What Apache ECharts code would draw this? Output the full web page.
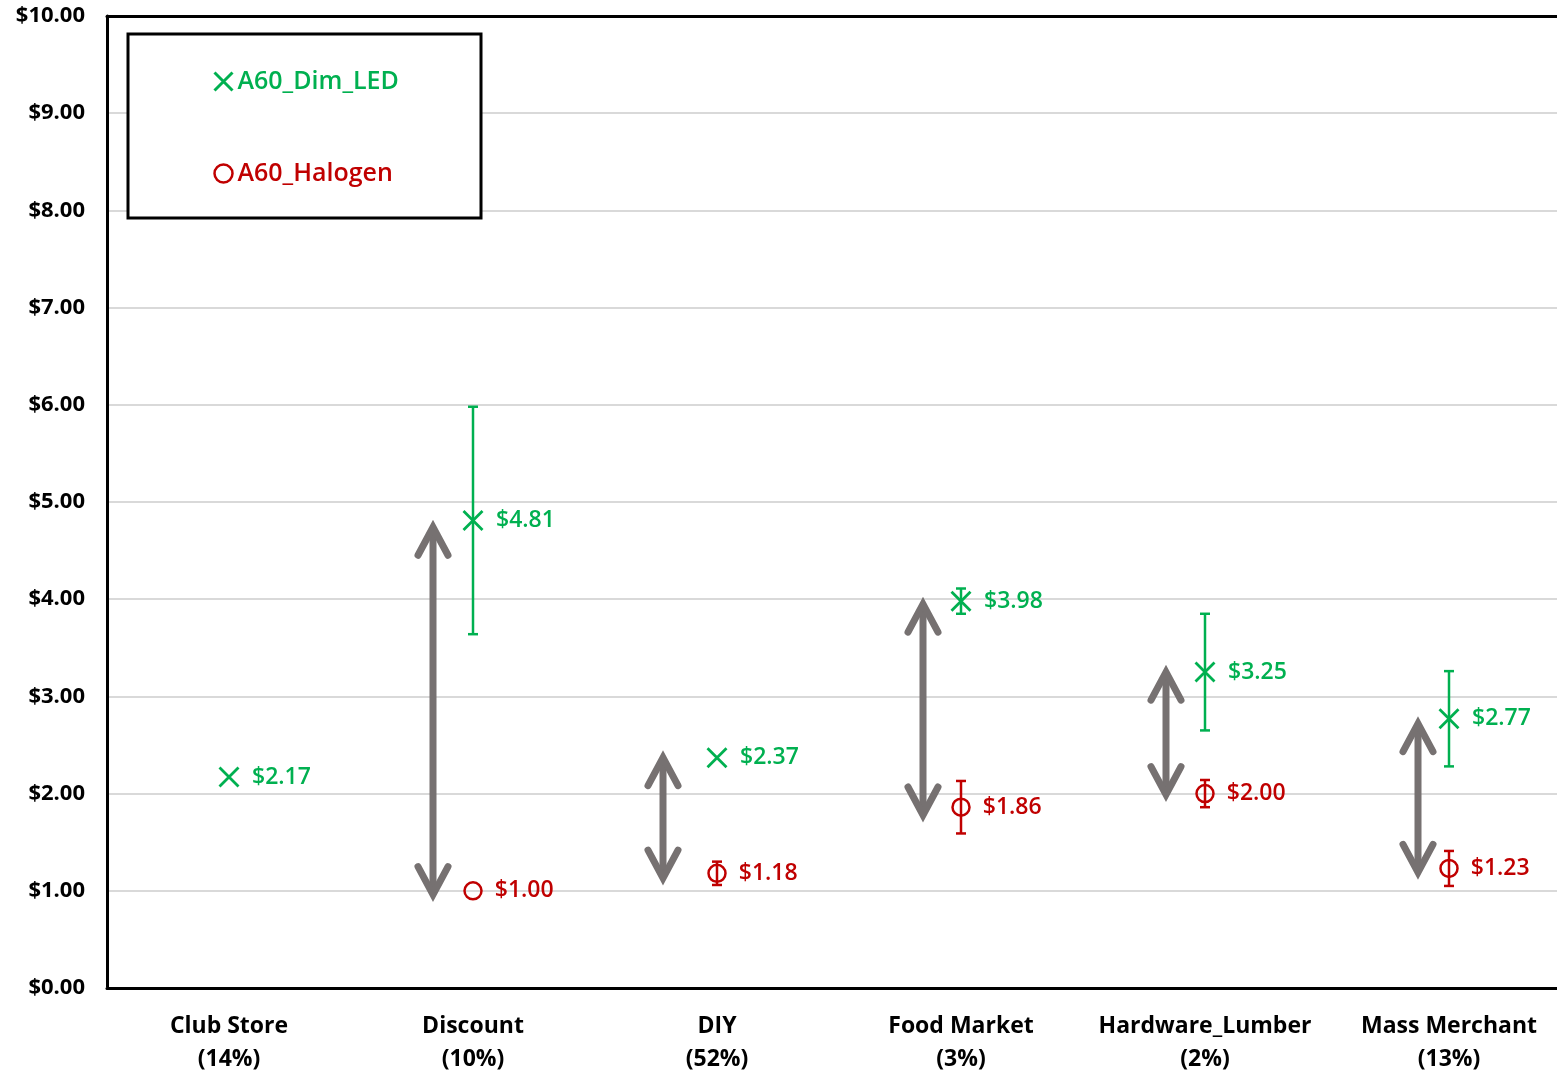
<!DOCTYPE html>
<html>
<head>
<meta charset="utf-8">
<script src="https://cdn.jsdelivr.net/npm/echarts@6/dist/echarts.min.js"></script>
<style>
html,body{margin:0;padding:0;background:#fff;}
#chart{width:1557px;height:1074px;}
</style>
</head>
<body>
<div id="chart"></div>
<script>
// ---- data ----
var categories = ['Club Store\n(14%)', 'Discount\n(10%)', 'DIY\n(52%)', 'Food Market\n(3%)', 'Hardware_Lumber\n(2%)', 'Mass Merchant\n(13%)'];
var ledPrice = [2.17, 4.81, 2.37, 3.98, 3.25, 2.77];
var ledErr = [0, 1.17, 0, 0.13, 0.60, 0.49];
var halogenPrice = [null, 1.00, 1.18, 1.86, 2.00, 1.23];
var halogenErr = [0, 0, 0.12, 0.27, 0.14, 0.18];
var arrowLow = [null, 0.96, 1.13, 1.78, 1.99, 1.19];
var arrowHigh = [null, 4.74, 2.37, 3.95, 3.25, 2.72];
var yTicks = [0, 1, 2, 3, 4, 5, 6, 7, 8, 9, 10];

// ---- styles ----
var arrowOffsetPx = [0, -40, -54, -38, -39, -31];
var GREEN = '#00B050', RED = '#C00000', GREY = '#767171';
var FONT = '"Open Sans", "Noto Sans", sans-serif';
var CROSS = 'path://M0,0L20,20M20,0L0,20';

function seriesData(vals, errs) {
  var out = [];
  for (var i = 0; i < vals.length; i++) {
    out.push(vals[i] == null ? [i, '-', 0] : [i, vals[i], errs[i]]);
  }
  return out;
}

function errRender(color) {
  return function (params, api) {
    var v = api.value(1), e = api.value(2), i = api.value(0);
    if (isNaN(v) || !e) return null;
    var top = api.coord([i, v + e]);
    var bot = api.coord([i, v - e]);
    var hw = 5;
    var st = {stroke: color, lineWidth: 2.5};
    return {
      type: 'group',
      children: [
        {type: 'line', shape: {x1: top[0], y1: top[1], x2: bot[0], y2: bot[1]}, style: st},
        {type: 'line', shape: {x1: top[0] - hw, y1: top[1], x2: top[0] + hw, y2: top[1]}, style: st},
        {type: 'line', shape: {x1: bot[0] - hw, y1: bot[1], x2: bot[0] + hw, y2: bot[1]}, style: st}
      ]
    };
  };
}

var arrowData = [];
for (var k = 0; k < categories.length; k++) {
  if (arrowLow[k] != null) arrowData.push([k, arrowLow[k], arrowHigh[k]]);
}

function arrowRender(params, api) {
  var i = api.value(0);
  var lo = api.coord([i, api.value(1)]);
  var hi = api.coord([i, api.value(2)]);
  var x = lo[0] + arrowOffsetPx[i];
  var hx = 15, hy = 28;
  var st = {stroke: GREY, lineWidth: 7, lineCap: 'round', lineJoin: 'miter', fill: null};
  return {
    type: 'group',
    children: [
      {type: 'line', shape: {x1: x, y1: hi[1] + 4, x2: x, y2: lo[1] - 4}, style: {stroke: GREY, lineWidth: 7}},
      {type: 'polyline', shape: {points: [[x - hx, hi[1] + hy], [x, hi[1]], [x + hx, hi[1] + hy]]}, style: st},
      {type: 'polyline', shape: {points: [[x - hx, lo[1] - hy], [x, lo[1]], [x + hx, lo[1] - hy]]}, style: st}
    ]
  };
}

var chart = echarts.init(document.getElementById('chart'));
chart.setOption({
  animation: false,
  backgroundColor: '#fff',
  grid: {left: 107, right: -14, top: 16, bottom: 86, show: false, containLabel: false, outerBoundsMode: 'none'},
  graphic: [{
    type: 'rect', z: 1,
    shape: {x: 128, y: 34, width: 353, height: 184},
    style: {fill: '#fff', stroke: '#000', lineWidth: 3}
  }],
  legend: {
    z: 5,
    left: 207, top: 64,
    orient: 'vertical',
    itemWidth: 18, itemHeight: 18, itemGap: 67,
    textStyle: {fontFamily: FONT, fontSize: 25, fontWeight: 600},
    data: [
      {name: 'A60_Dim_LED', icon: CROSS, itemStyle: {color: 'none', borderColor: GREEN, borderWidth: 3}, textStyle: {color: GREEN}},
      {name: 'A60_Halogen', icon: 'circle', itemStyle: {color: 'rgba(0,0,0,0)', borderColor: RED, borderWidth: 2.5}, textStyle: {color: RED}}
    ]
  },
  xAxis: [{
    type: 'category',
    data: categories,
    offset: 3,
    axisLine: {lineStyle: {color: '#BFBFBF', width: 1.5}},
    axisTick: {show: false},
    axisLabel: {fontFamily: FONT, fontSize: 23, fontWeight: 'bold', color: '#000', lineHeight: 33, margin: 19, interval: 0},
    splitLine: {show: false}
  }, {
    type: 'category',
    data: categories,
    position: 'top',
    axisLine: {lineStyle: {color: '#000', width: 3}},
    axisTick: {show: false},
    axisLabel: {show: false},
    splitLine: {show: false}
  }, {
    type: 'category',
    data: categories,
    position: 'bottom',
    axisLine: {lineStyle: {color: '#000', width: 3}},
    axisTick: {show: false},
    axisLabel: {show: false},
    splitLine: {show: false}
  }],
  yAxis: {
    type: 'value',
    min: yTicks[0], max: yTicks[yTicks.length - 1], interval: 1,
    axisLine: {show: true, lineStyle: {color: '#000', width: 3}},
    axisTick: {show: false},
    axisLabel: {fontFamily: FONT, fontSize: 22, fontWeight: 'bold', color: '#000', margin: 22,
      formatter: function (v) { return '$' + v.toFixed(2); }},
    splitLine: {lineStyle: {color: '#D9D9D9', width: 2}}
  },
  series: [
    {
      name: 'arrows', type: 'custom', renderItem: arrowRender, data: arrowData, z: 2, silent: true
    },
    {
      name: 'ledErr', type: 'custom', renderItem: errRender(GREEN), data: seriesData(ledPrice, ledErr), z: 3, silent: true
    },
    {
      name: 'halErr', type: 'custom', renderItem: errRender(RED), data: seriesData(halogenPrice, halogenErr), z: 3, silent: true
    },
    {
      name: 'A60_Dim_LED', type: 'scatter', z: 4,
      symbol: CROSS, symbolSize: 19,
      itemStyle: {color: 'none', borderColor: GREEN, borderWidth: 2.8, opacity: 1},
      data: seriesData(ledPrice, ledErr),
      encode: {x: 0, y: 1},
      label: {show: true, position: 'right', distance: 11, color: GREEN, fontFamily: FONT, fontSize: 23, fontWeight: 600,
        formatter: function (p) { return '$' + p.value[1].toFixed(2); }}
    },
    {
      name: 'A60_Halogen', type: 'scatter', z: 4,
      symbol: 'circle', symbolSize: 17,
      itemStyle: {color: 'rgba(0,0,0,0)', borderColor: RED, borderWidth: 2.5, opacity: 1},
      data: seriesData(halogenPrice, halogenErr),
      encode: {x: 0, y: 1},
      label: {show: true, position: 'right', distance: 12, color: RED, fontFamily: FONT, fontSize: 23, fontWeight: 600,
        formatter: function (p) { return '$' + p.value[1].toFixed(2); }}
    }
  ]
});
</script>
</body>
</html>
